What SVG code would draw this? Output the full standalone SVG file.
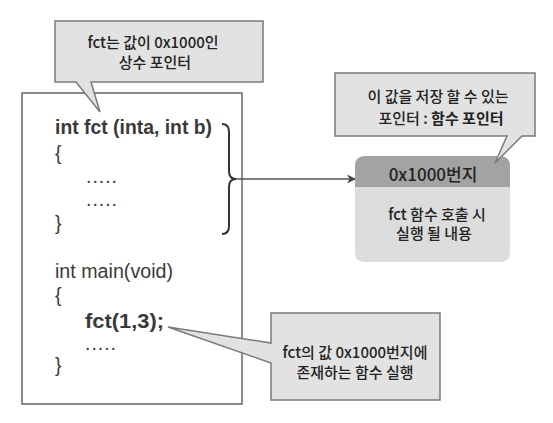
<svg xmlns="http://www.w3.org/2000/svg" width="553" height="423" viewBox="0 0 553 423">
<defs>
<style>
.code{font-family:"Liberation Sans",Arial,sans-serif;font-size:19.5px;fill:#3a3a3a}
.b{font-weight:bold}
.ko{font-family:"Noto Sans CJK KR","Liberation Sans",sans-serif;font-size:15px;font-weight:500;fill:#222;text-anchor:middle}
.callout{fill:#e2e2e2;stroke:#7a7a7a;stroke-width:1.5}
</style>
<marker id="arr" viewBox="0 0 10 10" refX="10" refY="5" markerWidth="9" markerHeight="9" markerUnits="userSpaceOnUse" orient="auto">
<path d="M0,0 L10,5 L0,10 L3,5 Z" fill="#444"/>
</marker>
</defs>
<rect width="553" height="423" fill="#fff"/>
<g id="code-box">
<rect x="22" y="93" width="220" height="311" fill="#fff" stroke="#666" stroke-width="1.5"/>
<text class="code b" x="55" y="134" textLength="157" lengthAdjust="spacingAndGlyphs">int fct (inta, int b)</text>
<text class="code" x="55" y="160">{</text>
<text class="code" x="86" y="183" textLength="31">.....</text>
<text class="code" x="86" y="206" textLength="31">.....</text>
<text class="code" x="55" y="230">}</text>
<text class="code" x="55" y="278" textLength="118" lengthAdjust="spacingAndGlyphs">int main(void)</text>
<text class="code" x="55" y="302">{</text>
<text class="code b" x="85" y="328" textLength="79" lengthAdjust="spacingAndGlyphs">fct(1,3);</text>
<text class="code" x="85" y="350" textLength="31">.....</text>
<text class="code" x="55" y="372">}</text>
</g>
<g id="connectors">
<path d="M222,124 Q229,124 229,132 V171 Q229,179 236,179 Q229,179 229,187 V226 Q229,234 222,234" fill="none" stroke="#333" stroke-width="2"/>
<line x1="236" y1="179" x2="356" y2="179" stroke="#555" stroke-width="1.5" marker-end="url(#arr)"/>
</g>
<g id="memory-box">
<path d="M355,187 V166 Q355,156 365,156 H500 Q510,156 510,166 V187 Z" fill="#a3a3a3"/>
<path d="M355,187 H510 V252 Q510,262 500,262 H365 Q355,262 355,252 Z" fill="#dcdcdc"/>
<text class="ko" x="433" y="181" style="font-size:17px">0x1000번지</text>
<text class="ko" x="437" y="220">fct 함수 호출 시</text>
<text class="ko" x="434" y="239">실행 될 내용</text>
</g>
<g id="callout-const">
<path class="callout" d="M55,21 H263 V82 H91 L100,112 L76,82 H55 Z"/>
<text class="ko" x="153" y="48">fct는 값이 0x1000인</text>
<text class="ko" x="155" y="68">상수 포인터</text>
</g>
<g id="callout-pointer">
<path class="callout" d="M335,73 H535 V136 H522 L495,163 L507,136 H335 Z"/>
<text class="ko" x="438" y="102">이 값을 저장 할 수 있는</text>
<text class="ko" x="441" y="124">포인터 : <tspan font-weight="bold">함수 포인터</tspan></text>
</g>
<g id="callout-call">
<path class="callout" d="M271,313 H440 V400 H271 V363 L168,327 L271,343 Z"/>
<text class="ko" x="355" y="358">fct의 값 0x1000번지에</text>
<text class="ko" x="355" y="378">존재하는 함수 실행</text>
</g>
</svg>
